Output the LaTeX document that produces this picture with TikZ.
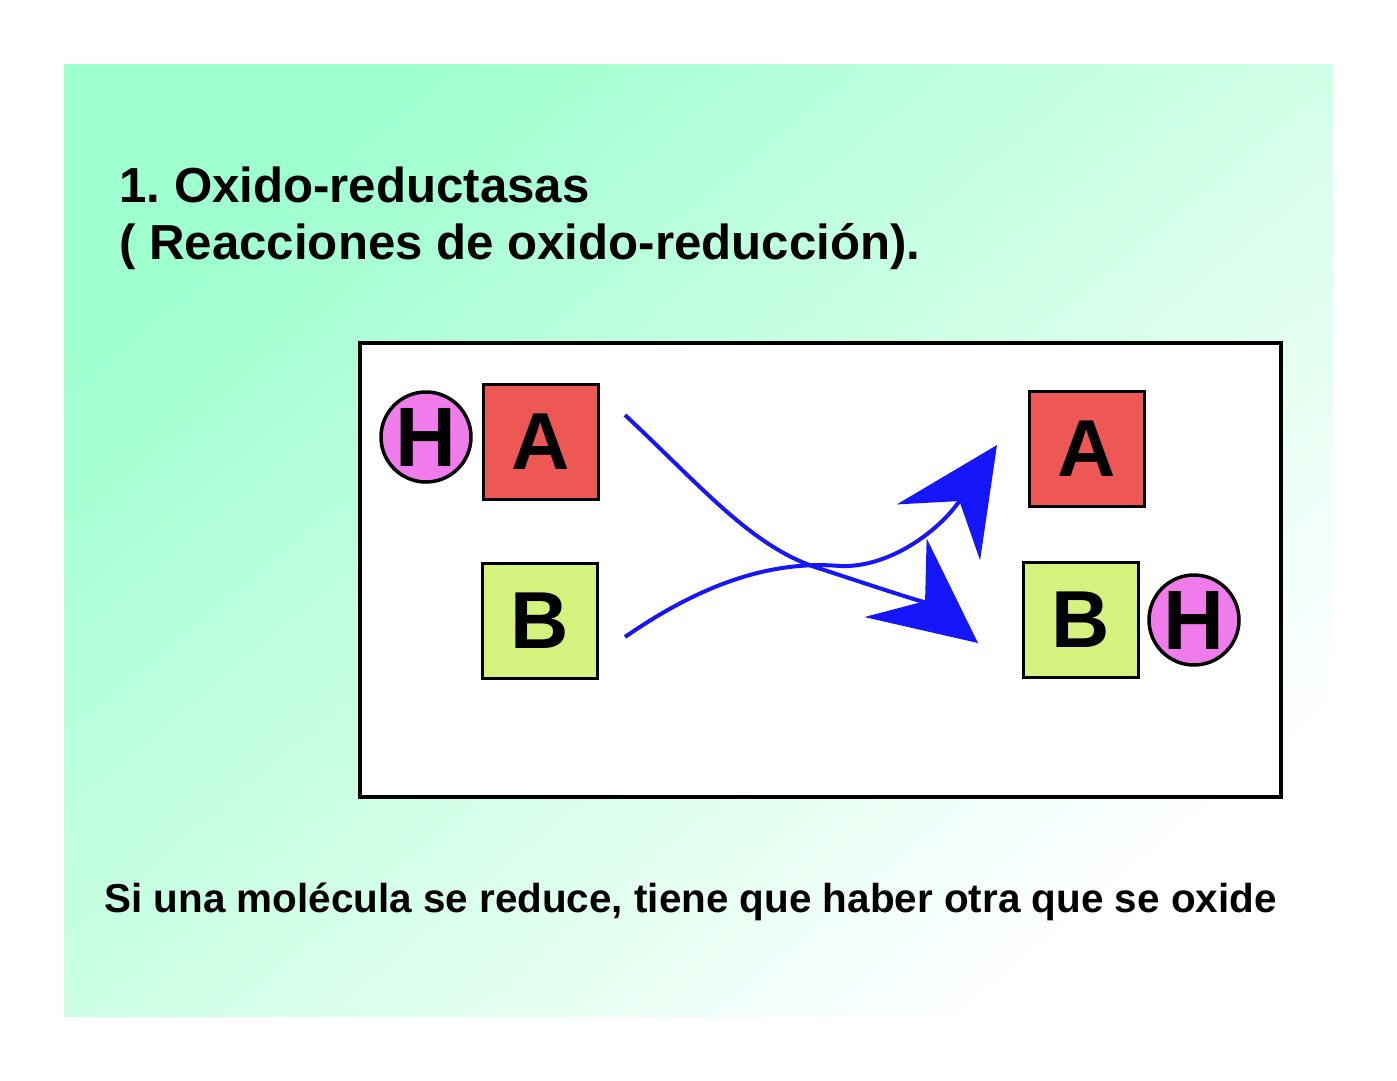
\documentclass[tikz,border=0pt]{standalone}
\usepackage{fontspec}
\setmainfont{Liberation Sans}
\usetikzlibrary{arrows.meta}

\definecolor{mint}{RGB}{158,255,207}
\definecolor{mintmid}{RGB}{200,250,224}
\definecolor{boxred}{RGB}{238,88,84}
\definecolor{boxlime}{RGB}{214,242,126}
\definecolor{hpink}{RGB}{240,124,236}
\definecolor{arrowblue}{RGB}{22,22,250}

\tikzset{
  molbox/.style={draw, line width=0.075cm, minimum size=2.3cm, inner sep=0pt,
    font=\bfseries\fontsize{46}{50}\selectfont},
  hball/.style={circle, draw, line width=0.07cm, fill=hpink, minimum size=1.8cm, inner sep=0pt,
    font=\bfseries\fontsize{48}{52}\selectfont},
  transfer/.style={arrowblue, line width=0.08cm,
    -{Stealth[length=2.1cm, width=2cm, inset=0.75cm]}}
}

\begin{document}
\frenchspacing
\begin{tikzpicture}[x=0.02cm, y=-0.02cm]
  \useasboundingbox (0,0) rectangle (1397,1080);
  % Background
  \fill[white] (0,0) rectangle (1397,1080);
  \shade[top color=mint, middle color=mintmid, bottom color=white, shading angle=40]
    (64,64) rectangle (1333,1016);

  % Texts
  \node[anchor=base west, inner sep=0pt, font=\bfseries\fontsize{28}{32}\selectfont] (title1) at (119,202) {1. Oxido-reductasas};
  \node[anchor=base west, inner sep=0pt, font=\bfseries\fontsize{28}{32}\selectfont] (title2) at (119,259) {( Reacciones de oxido-reducción).};
  \node[anchor=base west, inner sep=0pt, font=\bfseries\fontsize{23}{27}\selectfont] (caption) at (104,912) {Si una molécula se reduce, tiene que haber otra que se oxide};

  % Frame
  \draw[fill=white, line width=0.08cm] (360,343) rectangle (1281,797);

  % Nodes
  \node[hball] (hleft) at (426,437) {H};
  \node[molbox, fill=boxred] (aleft) at (541,442) {A};
  \node[molbox, fill=boxlime] (bleft) at (540,621) {B};
  \node[molbox, fill=boxred] (aright) at (1087,449) {A};
  \node[molbox, fill=boxlime] (bright) at (1081,620) {B};
  \node[hball] (hright) at (1194,620) {H};

  \coordinate (aout) at (625,415);
  \coordinate (bout) at (625,637);
  \coordinate (ain) at (997,445);
  \coordinate (bin) at (978,643);

  % Edges
  \draw[transfer] (aout) .. controls (700,485) and (750,545) .. (815,567)
    .. controls (870,585) and (930,605) .. (bin);
  \draw[transfer] (bout) .. controls (700,585) and (770,560) .. (840,566)
    .. controls (890,568) and (940,530) .. (ain);
\end{tikzpicture}
\end{document}
